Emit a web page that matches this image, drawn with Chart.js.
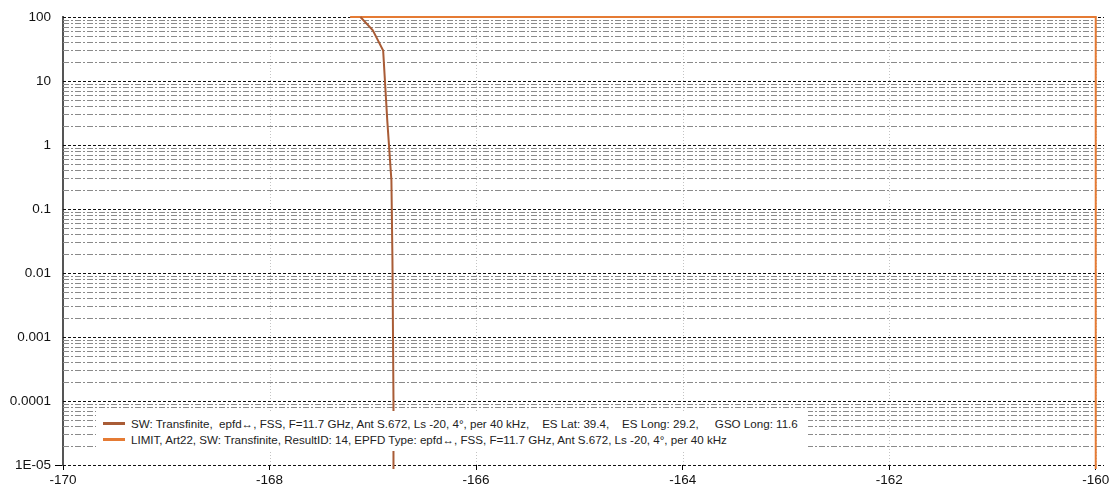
<!DOCTYPE html>
<html>
<head>
<meta charset="utf-8">
<script src="https://cdn.jsdelivr.net/npm/chart.js@4.4.1/dist/chart.umd.min.js"></script>
<style>
  html, body { margin: 0; padding: 0; background: #fff; }
  #wrap { position: relative; width: 1114px; height: 493px; }
  #legend {
    position: absolute; left: 96px; top: 411px; width: 712px; height: 40px;
    background: #fff; font-family: "Liberation Sans", Arial, sans-serif; font-size: 11.6px; color: #222;
  }
  .row { position: absolute; left: 0; height: 16px; white-space: pre; line-height: 16px; }
  .sw { display: inline-block; width: 22px; height: 3px; vertical-align: middle; margin: 0 6px 2px 7px; }
</style>
</head>
<body>
<div id="wrap">
  <canvas id="c" width="1114" height="493"></canvas>
  <div id="legend"></div>
</div>
<script>
// ---- Data ----
const xTickLabels = [-170, -168, -166, -164, -162, -160];
const yTickValues = [100, 10, 1, 0.1, 0.01, 0.001, 0.0001, 0.00001];
const yTickLabels = ["100", "10", "1", "0.1", "0.01", "0.001", "0.0001", "1E-05"];

const swLabel = "SW: Transfinite,  epfd\u2194, FSS, F=11.7 GHz, Ant S.672, Ls -20, 4\u00b0, per 40 kHz,    ES Lat: 39.4,    ES Long: 29.2,     GSO Long: 11.6";
const swX = [-167.12, -167.0, -166.9, -166.86, -166.82, -166.81, -166.8, -166.8];
const swY = [100, 62, 30, 2.4, 0.28, 0.016, 0.0001, 0.000005];

const limitLabel = "LIMIT, Art22, SW: Transfinite, ResultID: 14, EPFD Type: epfd\u2194, FSS, F=11.7 GHz, Ant S.672, Ls -20, 4\u00b0, per 40 kHz";
const limitX = [-167.22, -160, -160];
const limitY = [100, 100, 0.000005];

const swColor = "#A95C36";
const limitColor = "#E57B34";

// ---- Build ----
const toPts = (xs, ys) => xs.map((x, i) => ({ x: x, y: ys[i] }));
const FONT = '"Liberation Sans", Arial, sans-serif';

const gridPlugin = {
  id: 'customGrid',
  beforeDatasetsDraw(chart) {
    const { ctx, chartArea: a, scales: { x, y } } = chart;
    ctx.save();
    ctx.strokeStyle = '#c4c4c4';
    ctx.lineWidth = 1;
    ctx.setLineDash([1, 2]);
    xTickLabels.forEach(v => {
      if (v === -170) return;
      const px = Math.round(x.getPixelForValue(v)) + 0.5;
      ctx.beginPath(); ctx.moveTo(px, a.top); ctx.lineTo(px, a.bottom); ctx.stroke();
    });
    for (let d = -5; d <= 2; d++) {
      for (let k = 1; k <= 9; k++) {
        const v = k * Math.pow(10, d);
        if (v > 100.0001 || v < 0.0000099) continue;
        const py = Math.round(y.getPixelForValue(v)) + 0.5;
        if (k === 1) {
          ctx.strokeStyle = '#111';
          ctx.setLineDash([3, 2]);
        } else {
          ctx.strokeStyle = '#8a8a8a';
          ctx.setLineDash([6, 2, 2, 2]);
        }
        ctx.beginPath(); ctx.moveTo(a.left, py); ctx.lineTo(a.right, py); ctx.stroke();
      }
    }
    ctx.restore();
  }
};

new Chart(document.getElementById('c'), {
  type: 'line',
  data: {
    datasets: [
      { label: swLabel, data: toPts(swX, swY), borderColor: swColor, borderWidth: 2, pointRadius: 0, tension: 0, fill: false, clip: 4 },
      { label: limitLabel, data: toPts(limitX, limitY), borderColor: limitColor, borderWidth: 2, pointRadius: 0, tension: 0, fill: false, clip: 4 }
    ]
  },
  options: {
    responsive: false,
    animation: false,
    layout: { padding: { top: 17, right: 10, left: 0, bottom: 0 } },
    plugins: { legend: { display: false }, tooltip: { enabled: false } },
    scales: {
      x: {
        type: 'linear', min: -170, max: -159.92,
        afterBuildTicks: s => { s.ticks = xTickLabels.map(v => ({ value: v })); },
        afterFit: s => { s.height = 28; },
        grid: { drawOnChartArea: false, drawTicks: true, tickLength: 5, color: '#000' },
        border: { display: false },
        ticks: { color: '#111', padding: 2, font: { family: FONT, size: 13.5 }, callback: v => String(v), maxRotation: 0 }
      },
      y: {
        type: 'logarithmic', min: 0.00001, max: 100,
        afterBuildTicks: s => { s.ticks = yTickValues.map(v => ({ value: v })); },
        afterFit: s => { s.width = 63; },
        grid: { drawOnChartArea: false, drawTicks: true, tickLength: 8,
          color: c => (c.tick && c.tick.value < 0.00002) ? '#000' : 'rgba(0,0,0,0)' },
        border: { display: true, color: '#555', width: 2 },
        ticks: { color: '#111', padding: 4, font: { family: FONT, size: 13.5 },
          callback: (v) => { const i = yTickValues.findIndex(t => Math.abs(Math.log10(t) - Math.log10(v)) < 1e-6); return i >= 0 ? yTickLabels[i] : ''; } }
      }
    }
  },
  plugins: [gridPlugin]
});

// ---- Legend (HTML text) ----
const lg = document.getElementById('legend');
[[swLabel, swColor, 5], [limitLabel, limitColor, 21]].forEach(([t, col, top]) => {
  const r = document.createElement('div');
  r.className = 'row';
  r.style.top = top + 'px';
  const s = document.createElement('span');
  s.className = 'sw'; s.style.background = col;
  r.appendChild(s);
  r.appendChild(document.createTextNode(t));
  lg.appendChild(r);
});
</script>
</body>
</html>
